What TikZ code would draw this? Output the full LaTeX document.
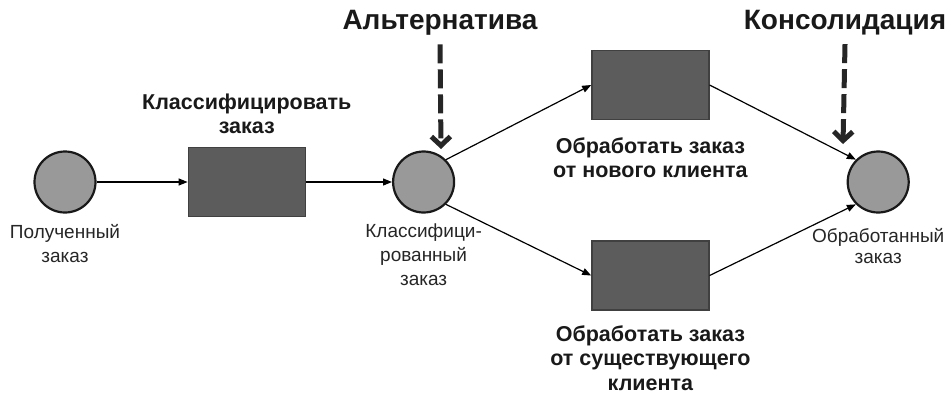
\documentclass[tikz,border=0pt]{standalone}
\usepackage{fontspec}
\setmainfont{Liberation Sans}
\usetikzlibrary{positioning,arrows.meta}

\begin{document}
\begin{tikzpicture}[node distance=80pt, >={Triangle[length=9pt,width=7pt]}, line width=1.2pt]
\tikzstyle{place}=[draw=black!90, line width=2.2pt, fill=black!40, circle, minimum size=61pt, inner sep=0pt]
\tikzstyle{trans}=[draw=black!75, line width=1.4pt, fill=black!64, rectangle, minimum width=117pt, minimum height=69pt]
\tikzstyle{boldlab}=[font=\bfseries\fontsize{21.5}{24.5}\selectfont, align=center, inner sep=0pt, text=black!90]
\tikzstyle{lab}=[font=\fontsize{19}{24}\selectfont, align=center, inner sep=0pt, text=black!85]
\tikzstyle{big}=[font=\bfseries\fontsize{28}{32}\selectfont, inner sep=0pt, text=black!90]
\tikzstyle{hint}=[draw=black!85, line width=5pt, dash pattern=on 19pt off 6pt, -{Straight Barb[length=9pt,width=19pt]}]
\useasboundingbox (0,0) rectangle (952pt,-397pt);
% places and transitions
\node[place] (received) at (65pt,-182pt) {};
\node[trans, right=91pt of received] (classify) {};
\node[place, right=86pt of classify] (sorted) {};
\node[trans, right=136pt of sorted, yshift=97pt] (newclient) {};
\node[trans, right=136pt of sorted, yshift=-93.5pt] (oldclient) {};
\node[place, right=137pt of newclient, yshift=-97pt] (done) {};
% labels
\node[boldlab, above=12pt of classify] (classifytxt) {Классифицировать\\заказ};
\node[boldlab, below=16.5pt of newclient] (newclienttxt) {Обработать заказ\\от нового клиента};
\node[boldlab, below=14pt of oldclient] (oldclienttxt) {Обработать заказ\\от существующего\\клиента};
\node[lab, below=10pt of received] (receivedtxt) {Полученный\\заказ};
\node[lab, below=10pt of sorted] (sortedtxt) {Классифици-\\рованный\\заказ};
\node[lab, font=\fontsize{19}{21.5}\selectfont, below=14pt of done] (donetxt) {Обработанный\\заказ};
\node[big, anchor=base] (alt) at (440pt,-29pt) {Альтернатива};
\node[big, anchor=base] (cons) at (845pt,-29pt) {Консолидация};
\coordinate (altend) at (441pt,-149pt);
\coordinate (consend) at (843pt,-144pt);
% arcs
\draw[->] (received) -- (classify);
\draw[->] (classify) -- (sorted);
\draw[->] (sorted.north east) -- (newclient.west);
\draw[->] (sorted.south east) -- (oldclient.west);
\draw[->] (newclient.east) -- (done.north west);
\draw[->] (oldclient.east) -- (done.south west);
\draw[hint] ([yshift=-9pt]alt.south) -- (altend);
\draw[hint] ([yshift=-9pt]cons.south) -- (consend);
\end{tikzpicture}
\end{document}
